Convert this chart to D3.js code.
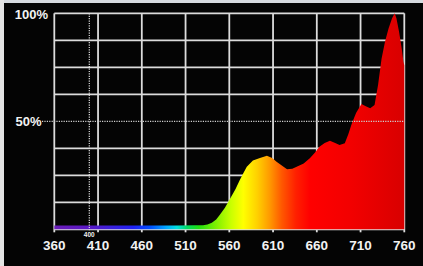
<!DOCTYPE html>
<html>
<head>
<meta charset="utf-8">
<script src="https://cdn.jsdelivr.net/npm/d3@7"></script>
<style>
  html, body { margin: 0; padding: 0; background: #000; }
  svg { display: block; }
  text { font-family: "Liberation Sans", Arial, sans-serif; font-weight: bold; fill: #f2f2f2; }
</style>
</head>
<body>
<svg width="423" height="266"></svg>
<script>
// spectrum readings (nm, % of peak)
var wavelengths = [360, 400, 450, 500, 520, 530, 535, 540, 545, 549, 555, 561, 567, 572, 576, 580, 587, 595, 603, 609, 614, 620, 626, 632, 637, 645, 652, 658, 663, 669, 675, 681, 686, 692, 696, 700, 705, 711, 716, 721, 726, 730, 734, 738, 742, 746, 749, 751, 754, 757, 759, 760];
var intensity   = [1.8, 1.8, 1.8, 1.8, 1.9, 1.9, 2.2, 3.0, 4.5, 6.6, 10, 14.3, 18.5, 22.8, 26, 29, 31.8, 33, 34, 33, 31.3, 29.5, 27.8, 28, 29, 30.5, 32.9, 35.5, 38.2, 40, 41, 40, 39, 39.8, 44, 49, 54, 58, 57, 56, 57.5, 66.8, 79, 87, 93, 97.7, 100, 97.7, 91.5, 83.8, 77.6, 76];
var xTicks = [360, 410, 460, 510, 560, 610, 660, 710, 760];
var yGrid = [0, 12.5, 25, 37.5, 50, 62.5, 75, 87.5, 100];

// wavelength -> colour stops for the fill
var stopNm  = [360, 400, 425, 450, 470, 488, 500, 512, 525, 545, 562, 576, 592, 606, 620, 636, 652, 700, 760];
var stopCol = ['#6a1cb8', '#5a18c6', '#3a20dc', '#2020f4', '#0050ff', '#00a8ff', '#00e0e0', '#00dc60', '#20e010', '#80f000', '#caff00', '#ffff00', '#ffd000', '#ff9a00', '#ff5800', '#ff2000', '#ff0000', '#f20000', '#d80000'];

var svg = d3.select("svg");

var x = d3.scaleLinear().domain([360, 760]).range([54.3, 404.3]);
var y = d3.scaleLinear().domain([0, 100]).range([229.3, 13.3]);

// light frame on top / left edge
svg.append("rect").attr("x", 0).attr("y", 0).attr("width", 423).attr("height", 266).attr("fill", "#040404");
svg.append("rect").attr("x", 0).attr("y", 0).attr("width", 423).attr("height", 3).attr("fill", "#d6dadf");
svg.append("rect").attr("x", 0).attr("y", 0).attr("width", 4).attr("height", 266).attr("fill", "#e4e4e4");

var grid = svg.append("g").attr("stroke", "#dcdcdc").attr("stroke-width", 1.8);
grid.selectAll(".v").data(xTicks).enter().append("line")
    .attr("x1", function(d) { return x(d); })
    .attr("x2", function(d) { return x(d); })
    .attr("y1", y(100)).attr("y2", y(0) + 3);
grid.selectAll(".h").data(yGrid.filter(function(d) { return d != 50; })).enter().append("line")
    .attr("x1", x(360)).attr("x2", x(760))
    .attr("y1", function(d) { return y(d); })
    .attr("y2", function(d) { return y(d); });

var grad = svg.append("defs").append("linearGradient")
    .attr("id", "spec").attr("gradientUnits", "userSpaceOnUse")
    .attr("x1", x(360)).attr("x2", x(760)).attr("y1", 0).attr("y2", 0);
grad.selectAll("stop").data(stopNm).enter().append("stop")
    .attr("offset", function(d) { return (d - 360) / 400; })
    .attr("stop-color", function(d, i) { return stopCol[i]; });

var pts = wavelengths.map(function(w, i) { return [w, intensity[i]]; });
var area = d3.area()
    .x(function(d) { return x(d[0]); })
    .y0(y(0))
    .y1(function(d) { return y(d[1]); });

svg.append("path").datum(pts).attr("d", area).attr("fill", "url(#spec)");

// dotted markers (50% and 400 nm)
svg.append("line").attr("x1", 42).attr("x2", x(760)).attr("y1", y(50)).attr("y2", y(50))
    .attr("stroke", "#cfcfcf").attr("stroke-width", 1.2).attr("stroke-dasharray", "1.2,1.2");
svg.append("line").attr("x1", x(400)).attr("x2", x(400)).attr("y1", y(100)).attr("y2", y(0) + 1)
    .attr("stroke", "#e0e0e0").attr("stroke-width", 1.2).attr("stroke-dasharray", "1.2,1.2");

svg.selectAll(".xl").data(xTicks).enter().append("text")
    .attr("x", function(d) { return x(d); })
    .attr("y", 249.5)
    .attr("text-anchor", "middle")
    .attr("font-size", 13.5)
    .text(function(d) { return d; });

svg.append("text").attr("x", x(400)).attr("y", 236.5).attr("text-anchor", "middle")
    .attr("font-size", 6.5).text("400");

svg.append("text").attr("x", 48).attr("y", 19).attr("text-anchor", "end")
    .attr("font-size", 13).text("100%");
svg.append("text").attr("x", 41.5).attr("y", 126).attr("text-anchor", "end")
    .attr("font-size", 13).text("50%");
</script>
</body>
</html>
